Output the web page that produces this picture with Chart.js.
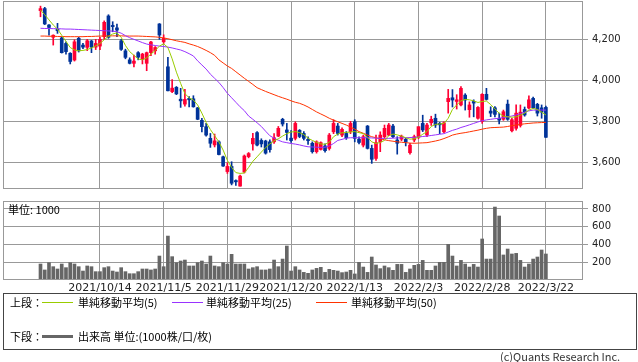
<!DOCTYPE html>
<html>
<head>
<meta charset="utf-8">
<script src="https://cdn.jsdelivr.net/npm/chart.js@4/dist/chart.umd.min.js"></script>
<style>
  body { margin: 0; width: 638px; height: 362px; position: relative; overflow: hidden; background: #fff;
         font-family: "Noto Sans CJK JP", sans-serif; color: #000; }
  canvas { position: absolute; left: 0; }
  #price { top: 0; }
  #vol { top: 195px; }
  .t { position: absolute; font-size: 11px; line-height: 14px; white-space: nowrap; }
  .ln { position: absolute; height: 1px; }
  #box { position: absolute; left: 3px; top: 293px; width: 634px; height: 57px; border: 1px solid #444; box-sizing: border-box; }
</style>
</head>
<body>
<canvas id="price" width="638" height="195"></canvas>
<canvas id="vol" width="638" height="105"></canvas>
<div class="t" style="left:8px; top:202px;">単位: 1000</div>

<div id="box"></div>
<div class="t" style="left:10px; top:295px;">上段：</div>
<div class="ln" style="left:42px; top:302px; width:31px; background:#99cc00;"></div>
<div class="t" style="left:78px; top:295px;">単純移動平均(5)</div>
<div class="ln" style="left:172px; top:302px; width:31px; background:#9933ff;"></div>
<div class="t" style="left:206px; top:295px;">単純移動平均(25)</div>
<div class="ln" style="left:316px; top:302px; width:31px; background:#ff3300;"></div>
<div class="t" style="left:351px; top:295px;">単純移動平均(50)</div>
<div class="t" style="left:10px; top:329px;">下段：</div>
<div class="ln" style="left:42px; top:335px; width:31px; height:3px; background:#666;"></div>
<div class="t" style="left:78px; top:329px;">出来高 単位:(1000株/口/枚)</div>
<div class="t" style="left:500px; top:349px; color:#333;">(c)Quants Research Inc.</div>

<script>
// daily candles, one per trading day (index 0..119)
const opens = [4340,4350,4270,4210,4249,4207,4180,4132,4099,4205,4172,4161,4192,4162,4167,4213,4314,4268,4256,4193,
  4144,4100,4083,4135,4102,4083,4135,4144,4275,4188,4066,3945,3966,3908,3884,3912,3910,3866,3805,3774,
  3717,3685,3700,3627,3555,3580,3511,3484,3553,3628,3690,3745,3707,3704,3700,3700,3728,3810,3758,3718,
  3717,3756,3741,3712,3693,3652,3663,3680,3668,3749,3777,3733,3741,3750,3798,3713,3684,3777,3668,3619,
  3700,3725,3733,3777,3709,3713,3712,3647,3709,3722,3790,3733,3793,3815,3790,3749,3896,3915,3897,3880,
  3928,3857,3897,3815,3800,3932,3850,3866,3815,3810,3884,3754,3766,3780,3858,3865,3912,3883,3866,3868];
const highs = [4362,4356,4272,4222,4278,4212,4188,4135,4198,4210,4180,4200,4195,4200,4210,4290,4320,4286,4275,4200,
  4152,4110,4123,4140,4132,4138,4190,4165,4277,4222,4112,4004,3970,3961,3956,3921,3925,3868,3815,3790,
  3741,3738,3705,3630,3598,3603,3515,3538,3636,3648,3741,3750,3715,3708,3710,3740,3775,3815,3790,3755,
  3798,3760,3750,3725,3700,3705,3700,3690,3741,3808,3790,3768,3750,3800,3808,3725,3733,3780,3684,3733,
  3749,3782,3790,3785,3725,3733,3717,3693,3733,3774,3830,3790,3825,3835,3795,3798,3956,3955,3930,3970,
  3935,3895,3905,3872,3935,3961,3871,3872,3840,3855,3904,3815,3880,3880,3870,3925,3918,3888,3880,3875];
const lows = [4310,4272,4220,4172,4229,4133,4128,4080,4094,4138,4155,4145,4135,4150,4150,4200,4205,4237,4213,4146,
  4105,4080,4066,4100,4080,4047,4120,4128,4200,4180,3949,3940,3930,3868,3874,3870,3869,3808,3749,3728,
  3673,3675,3636,3580,3546,3490,3488,3484,3548,3622,3660,3680,3675,3640,3650,3692,3725,3777,3709,3697,
  3709,3720,3709,3688,3645,3645,3660,3650,3660,3740,3733,3725,3712,3740,3700,3690,3675,3665,3595,3610,
  3652,3717,3730,3720,3640,3705,3680,3640,3700,3715,3750,3725,3780,3770,3740,3745,3840,3870,3860,3875,
  3855,3820,3822,3810,3790,3904,3823,3822,3787,3805,3805,3748,3757,3772,3825,3860,3862,3826,3815,3722];
const closes = [4350,4275,4258,4220,4242,4135,4140,4092,4188,4144,4162,4193,4162,4180,4200,4283,4210,4262,4245,4151,
  4112,4083,4094,4113,4128,4135,4187,4160,4221,4205,3949,3962,3934,3900,3907,3905,3871,3810,3774,3733,
  3693,3705,3638,3582,3580,3498,3505,3533,3631,3643,3717,3684,3690,3645,3662,3720,3766,3787,3746,3706,
  3790,3726,3717,3706,3652,3700,3696,3657,3733,3790,3741,3761,3720,3790,3717,3697,3725,3668,3615,3696,
  3733,3766,3782,3725,3693,3728,3700,3684,3725,3774,3758,3782,3810,3782,3783,3793,3912,3904,3905,3961,
  3904,3880,3889,3868,3932,3907,3840,3834,3806,3847,3810,3808,3840,3845,3831,3905,3866,3840,3845,3722];

const ma5 = [4343,4320,4295,4270,4250,4220,4190,4160,4148,4144,4146,4150,4158,4168,4180,4198,4214,4226,4232,4210,
  4170,4140,4122,4104,4100,4110,4128,4145,4167,4178,4160,4105,4040,3985,3935,3915,3904,3880,3840,3795,
  3760,3730,3700,3660,3610,3575,3550,3546,3548,3575,3605,3627,3650,3672,3690,3705,3715,3728,3740,3748,
  3750,3745,3735,3718,3707,3698,3690,3688,3698,3725,3738,3744,3746,3748,3750,3745,3740,3722,3700,3692,
  3697,3707,3730,3738,3734,3728,3720,3713,3715,3723,3737,3750,3775,3785,3787,3790,3815,3858,3880,3900,
  3907,3905,3900,3892,3897,3899,3882,3860,3840,3825,3822,3820,3822,3830,3840,3855,3863,3858,3845,3831];
const ma25 = [4254,4253,4253,4252,4252,4251,4250,4250,4249,4248,4247,4246,4245,4244,4243,4242,4241,4240,4237,4230,
  4218,4208,4200,4192,4184,4177,4173,4170,4167,4165,4162,4158,4153,4148,4140,4130,4119,4095,4075,4055,
  4030,4010,3990,3965,3937,3915,3893,3871,3852,3826,3810,3793,3775,3752,3730,3718,3708,3700,3696,3692,
  3689,3685,3680,3676,3675,3674,3673,3674,3680,3692,3707,3712,3718,3720,3720,3720,3720,3720,3719,3718,
  3717,3717,3717,3718,3719,3720,3720,3721,3722,3724,3726,3728,3731,3734,3737,3740,3748,3756,3762,3770,
  3776,3783,3790,3797,3803,3807,3810,3813,3815,3818,3822,3826,3831,3838,3845,3851,3855,3855,3855,3855];
const ma50 = [4216,4216,4215,4215,4214,4214,4213,4213,4213,4213,4213,4214,4214,4215,4216,4216,4217,4217,4217,4217,
  4216,4216,4216,4216,4215,4214,4213,4212,4210,4207,4203,4198,4193,4189,4185,4178,4172,4165,4156,4146,
  4135,4122,4100,4085,4070,4058,4042,4026,4010,3995,3980,3964,3955,3946,3938,3930,3922,3915,3908,3900,
  3893,3888,3880,3870,3858,3846,3836,3826,3815,3806,3798,3790,3782,3772,3762,3750,3742,3733,3725,3720,
  3715,3710,3706,3703,3700,3698,3696,3694,3693,3694,3695,3696,3700,3704,3709,3716,3724,3733,3738,3742,
  3745,3749,3753,3757,3762,3766,3769,3770,3771,3772,3775,3779,3782,3785,3788,3790,3792,3793,3794,3795];

// volume, unit 1000 shares
const volumes = [180,113,195,150,124,180,139,195,180,150,101,158,150,94,94,139,150,101,90,139,
  94,71,71,94,124,124,113,124,270,150,495,263,195,214,225,158,158,195,214,180,
  270,158,150,195,180,289,180,180,180,124,139,150,113,113,124,225,150,236,383,101,
  150,113,86,75,113,131,143,86,120,109,101,83,90,109,68,199,146,86,259,169,
  128,158,139,109,176,176,86,124,165,176,221,109,109,158,199,199,402,270,158,221,
  180,146,176,146,462,236,236,822,721,282,349,293,300,221,146,180,236,259,338,293];

const tickIdx = [14, 29, 44, 59, 74, 89, 104, 119];
const tickLabels = ['2021/10/14', '2021/11/5', '2021/11/29', '2021/12/20', '2022/1/13', '2022/2/3', '2022/2/28', '2022/3/22'];
const priceTicks = [3600, 3800, 4000, 4200];
const volTicks = [200, 400, 600, 800];

const UP = '#ff0033', DOWN = '#003399', GRID = '#999999';
const xMin = -8.83, xMax = 127.74;

const frame = {
  id: 'frame',
  afterDraw(chart) {
    const a = chart.chartArea, g = chart.ctx;
    g.save();
    g.strokeStyle = GRID;
    g.lineWidth = 1;
    g.strokeRect(Math.round(a.left) + 0.5, Math.round(a.top) + 0.5,
      Math.round(a.right - a.left) - 1, Math.round(a.bottom - a.top) - 1);
    g.restore();
  }
};

const colors = opens.map((o, i) => closes[i] >= o ? UP : DOWN);
const pts = arr => arr.map((v, i) => ({ x: i, y: v }));
const maLine = (arr, color) => ({
  type: 'line', data: pts(arr), borderColor: color, borderWidth: 1,
  pointRadius: 0, tension: 0, order: 0
});

// no label padding, so the plot area keeps the size set by layout
const noPad = s => { s.paddingTop = 0; s.paddingBottom = 0; s.paddingLeft = 0; s.paddingRight = 0; };

const xScale = (showLabels) => ({
  type: 'linear', min: xMin, max: xMax, offset: false,
  afterBuildTicks: s => { s.ticks = tickIdx.map(v => ({ value: v })); },
  afterFit: s => { s.height = showLabels ? 20 : 0; noPad(s); },
  ticks: {
    display: showLabels, maxRotation: 0, autoSkip: false, padding: 2,
    color: '#222', font: { family: 'DejaVu Sans', size: 11 },
    callback: v => tickLabels[tickIdx.indexOf(v)]
  },
  grid: { color: GRID, drawTicks: false, offset: false },
  border: { display: false }
});

const yScale = (min, max, ticks, fmt) => ({
  position: 'right', min, max,
  afterBuildTicks: s => { s.ticks = ticks.map(v => ({ value: v })); },
  afterFit: s => { s.width = 55; noPad(s); },
  ticks: { color: '#222', padding: 4, font: { family: 'DejaVu Sans', size: 10 }, callback: fmt },
  grid: { color: GRID, tickLength: 5 },
  border: { display: false }
});

new Chart(document.getElementById('price'), {
  type: 'bar',
  data: {
    datasets: [
      maLine(ma5, '#99cc00'),
      maLine(ma25, '#9933ff'),
      maLine(ma50, '#ff3300'),
      {
        data: opens.map((o, i) => ({ x: i, y: [o, closes[i]] })),
        backgroundColor: colors, barThickness: 3, grouped: false, minBarLength: 1, order: 1
      },
      {
        data: lows.map((l, i) => ({ x: i, y: [l, highs[i]] })),
        backgroundColor: colors, barThickness: 1, grouped: false, order: 2
      }
    ]
  },
  options: {
    animation: false, responsive: false, events: [],
    layout: { padding: { left: 3, top: 1, right: 0, bottom: 6 } },
    plugins: { legend: { display: false }, tooltip: { enabled: false } },
    scales: {
      x: xScale(false),
      y: yScale(3470, 4387, priceTicks, v => v.toLocaleString('en-US'))
    }
  },
  plugins: [frame]
});

new Chart(document.getElementById('vol'), {
  type: 'bar',
  data: {
    datasets: [{
      data: pts(volumes), backgroundColor: '#666666', barThickness: 3, grouped: false
    }]
  },
  options: {
    animation: false, responsive: false, events: [],
    layout: { padding: { left: 3, top: 6, right: 0, bottom: 0 } },
    plugins: { legend: { display: false }, tooltip: { enabled: false } },
    scales: {
      x: xScale(true),
      y: yScale(0, 890, volTicks, v => String(v))
    }
  },
  plugins: [frame]
});
</script>
</body>
</html>
